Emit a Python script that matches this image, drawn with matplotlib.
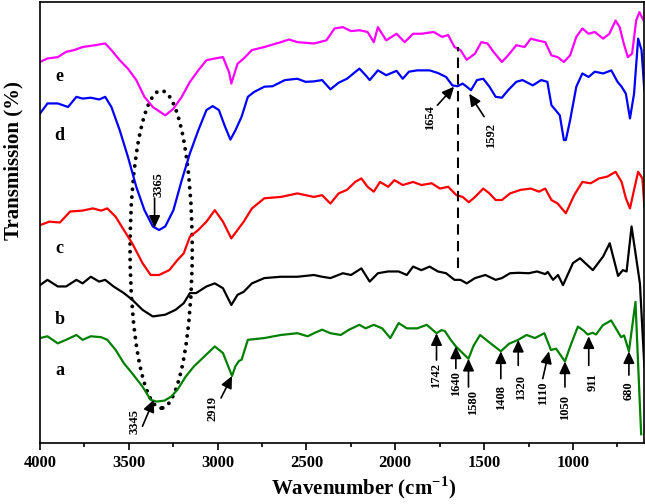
import matplotlib
matplotlib.use('Agg')
import matplotlib.pyplot as plt
from matplotlib.patches import Ellipse

# FTIR spectra, traces a-e (wavenumber in cm-1, transmission offset per trace)
wn_a = [4000,3958,3900,3853,3795,3760,3714,3656,3621,3574,3528,3481,3423,3377,3345,3300,3262,3226,3179,3133,
        3086,3016,2970,2919,2900,2880,2865,2830,2737,2644,2551,2493,2458,2412,2365,2307,2260,2202,2167,2121,
        2074,2028,1981,1935,1877,1823,1768,1740,1721,1690,1659,1588,1560,1523,1470,1406,1360,1308,1261,1214,
        1161,1124,1095,1045,1010,972,940,917,889,870,832,785,729,712,685,648,630,616]
t_a = [23.8,24.2,22.6,23.4,24.5,23.4,24.2,24.0,23.4,21.1,18.1,15.8,12.8,9.8,9.4,9.6,10.5,12.1,15.1,17.4,
       19.2,21.9,20.4,15.2,17.4,18.6,18.9,23.4,23.8,24.5,24.9,24.2,24.9,25.7,24.9,24.5,25.7,26.8,26.0,26.8,
       26.0,23.8,27.2,26.0,26.0,26.8,24.9,25.6,25.4,23.5,21.9,19.1,22.0,24.5,22.8,20.8,22.5,23.4,24.5,23.8,
       24.9,21.1,21.4,18.5,22.5,26.4,25.5,24.6,25.0,24.6,26.7,27.8,24.0,24.4,20.8,32.0,15.0,2.0]

wn_b = [4000,3958,3900,3853,3795,3760,3714,3667,3633,3586,3528,3481,3423,3365,3295,3237,3191,3156,3121,3063,
        3016,2970,2923,2888,2853,2807,2737,2644,2551,2458,2412,2365,2295,2249,2191,2144,2098,2040,1981,1935,
        1900,1853,1807,1760,1714,1667,1633,1598,1551,1493,1435,1400,1354,1307,1249,1202,1156,1142,1112,1084,
        1056,1000,960,888,830,793,746,719,698,670,623,598]
t_b = [35.8,37.0,35.5,35.5,37.0,36.2,37.7,36.6,37.0,35.5,34.0,32.5,30.2,28.7,29.1,30.2,31.7,34.0,34.0,35.5,
       36.2,35.1,31.3,33.6,34.3,36.2,37.4,37.7,37.7,38.1,37.7,37.4,38.5,38.1,39.6,36.6,38.5,38.9,38.9,38.1,
       40.0,39.2,40.0,38.9,38.5,37.0,37.0,36.2,37.4,38.1,37.0,37.4,38.5,38.6,38.5,38.9,38.3,38.8,37.0,38.1,
       35.8,40.8,41.9,39.2,42.3,45.3,37.9,39.2,38.9,49.1,36.2,17.4]

wn_c = [4000,3947,3888,3830,3760,3702,3656,3621,3574,3528,3481,3423,3377,3330,3272,3226,3191,3156,3109,3063,
        3016,2970,2923,2888,2853,2807,2737,2644,2551,2458,2412,2365,2319,2272,2226,2191,2156,2121,2086,2040,
        2005,1958,1900,1853,1795,1749,1702,1656,1621,1586,1551,1505,1470,1435,1400,1354,1295,1237,1191,1156,
        1121,1086,1040,993,947,900,853,807,760,726,702,679,656,633,609,598]
t_c = [49.4,50.2,50.0,52.5,52.7,53.2,52.7,53.2,51.3,48.3,45.3,40.8,38.1,38.1,39.2,41.5,43.0,46.8,48.3,50.2,
       52.8,50.2,46.4,48.3,50.2,53.2,55.5,55.8,56.6,55.8,56.2,54.3,56.6,57.4,59.2,60.0,58.1,57.0,59.2,58.1,
       59.6,58.5,59.2,58.5,58.9,57.7,58.1,56.2,55.8,54.6,55.8,57.7,56.6,55.1,55.1,56.6,57.4,57.7,57.0,57.7,
       55.1,54.3,52.1,56.2,59.2,58.9,60.0,60.4,61.5,59.2,55.5,53.2,57.4,61.5,60.0,53.6]

wn_d = [4000,3958,3900,3842,3795,3760,3714,3667,3633,3598,3551,3505,3458,3412,3365,3330,3295,3249,3202,3156,
        3109,3063,3028,2993,2958,2928,2900,2865,2830,2795,2737,2691,2621,2551,2505,2458,2412,2365,2319,2272,
        2202,2167,2144,2098,2051,1993,1958,1923,1877,1807,1760,1714,1679,1649,1621,1598,1574,1540,1505,1470,
        1435,1400,1365,1319,1284,1226,1179,1144,1121,1098,1074,1051,1040,1016,981,947,912,877,830,784,
        749,726,702,679,656,633,614,598]
t_d = [74.7,77.0,77.0,76.2,78.5,78.1,78.3,77.9,78.5,76.2,70.9,64.9,58.1,52.8,49.1,48.3,49.1,52.8,59.6,65.7,
       70.9,75.5,76.4,75.5,71.7,68.8,70.9,74.0,78.5,79.6,80.8,80.9,82.3,82.6,81.9,82.0,82.3,80.2,81.7,82.6,
       84.9,83.4,82.3,84.5,83.4,84.4,82.6,84.2,84.5,84.5,83.9,83.0,81.1,80.9,81.5,80.8,80.0,82.3,82.6,80.8,
       78.5,78.3,80.0,81.9,82.3,81.1,82.3,81.9,76.6,75.5,74.3,68.7,68.7,73.2,80.8,83.8,83.0,84.2,83.8,84.5,
       81.9,80.8,79.2,73.6,79.2,91.7,89.1,80.0]

wn_e = [4000,3958,3900,3853,3807,3760,3691,3633,3598,3551,3505,3458,3412,3365,3295,3249,3202,3156,3109,3063,
        3016,2970,2935,2923,2888,2853,2807,2737,2644,2598,2551,2458,2388,2342,2295,2249,2202,2156,2121,2098,
        2051,1993,1947,1900,1853,1784,1737,1702,1667,1633,1598,1551,1516,1481,1447,1400,1365,1319,1272,1237,
        1202,1156,1121,1086,1051,1016,981,947,912,877,830,795,760,737,714,691,667,644,626,602]
t_e = [86.4,87.2,87.5,88.7,89.1,89.8,90.2,90.6,89.1,86.8,84.9,82.3,78.5,76.2,74.3,75.8,78.5,81.9,84.5,86.8,
       87.2,87.5,84.0,81.5,86.0,87.2,89.1,89.8,90.9,91.5,90.9,90.6,91.3,94.0,94.3,93.4,93.6,93.2,90.9,94.3,
       91.3,92.8,90.9,92.8,92.8,93.2,92.1,92.5,89.8,89.1,86.9,88.3,90.9,90.6,88.7,86.4,87.9,90.2,89.8,91.7,
       91.3,90.9,87.9,87.5,86.4,87.9,92.1,94.0,92.8,93.2,91.7,92.8,95.8,94.3,90.6,87.5,88.3,95.8,97.7,95.8]

trace_names = ['a', 'b', 'c', 'd', 'e']
trace_colors = ['#008000', 'black', '#ff0000', '#0000ff', '#ff00ff']

# peak labels: text, arrow tip, arrow tail, label centre
peak_labels = ['3345', '2919', '1742', '1640', '1580', '1408', '1320', '1110', '1050', '911', '680',
               '3365', '1654', '1592']
tip_x = [3360, 2919, 1768, 1659, 1588, 1406, 1308, 1135, 1045, 911, 685, 3355, 1669, 1584]
tip_y = [9.8, 15.2, 24.9, 21.9, 19.1, 20.8, 23.4, 20.8, 18.5, 24.2, 20.8, 48.8, 80.8, 79.2]
tail_x = [3423, 2981, 1768, 1659, 1588, 1406, 1308, 1170, 1045, 911, 685, 3355, 1763, 1500]
tail_y = [3.8, 10.2, 18.8, 16.9, 12.7, 14.6, 17.6, 14.6, 12.7, 17.6, 15.4, 55.5, 76.6, 74.0]
lab_x = [3470, 3028, 1768, 1659, 1565, 1406, 1293, 1170, 1045, 889, 685, 3335, 1806, 1462]
lab_y = [4.9, 7.9, 15.3, 13.4, 9.3, 10.4, 12.7, 11.2, 8.1, 13.8, 11.9, 58.5, 73.9, 69.8]

plt.rcParams['font.family'] = ['Liberation Serif', 'DejaVu Serif']
plt.rcParams['mathtext.fontset'] = 'custom'
plt.rcParams['mathtext.rm'] = 'Liberation Serif:bold'
plt.rcParams['mathtext.bf'] = 'Liberation Serif:bold'

fig = plt.figure(figsize=(6.45, 5.04), dpi=100)
ax = fig.add_axes([0.062, 0.121, 0.937, 0.875])

for wn, t, c in zip([wn_a, wn_b, wn_c, wn_d, wn_e], [t_a, t_b, t_c, t_d, t_e], trace_colors):
    ax.plot(wn, t, color=c, lw=1.6, solid_joinstyle='round')

# trace letters
for name, ty in zip(trace_names, [16.5, 28.0, 44.2, 69.8, 83.0]):
    ax.text(3890, ty, name, fontsize=13, fontweight='bold', ha='center', va='center')

# peak arrows and labels
for i in range(len(peak_labels)):
    ax.annotate('', xy=(tip_x[i], tip_y[i]), xytext=(tail_x[i], tail_y[i]),
                arrowprops=dict(arrowstyle='-|>,head_length=0.6,head_width=0.28',
                                color='black', lw=1.2, shrinkA=0, shrinkB=0, mutation_scale=12))
    ax.text(lab_x[i], lab_y[i], peak_labels[i], rotation=90, fontsize=9,
            fontweight='bold', ha='center', va='center')

# dotted ellipse round the O-H band and dashed line at 1654
ell = Ellipse((3318, 43.9), 350, 72, fill=False, edgecolor='black',
              lw=2.8, linestyle=(0, (0.01, 2.0)))
ell.set_capstyle('round')
ax.add_patch(ell)
ax.plot([1648, 1648], [39.6, 89.8], color='black', lw=1.5, ls=(0, (5, 3)))

ax.set_xlim(4000, 598)
ax.set_ylim(0, 100)
ax.set_xticks([4000, 3500, 3000, 2500, 2000, 1500, 1000])
ax.set_xticks([3750, 3250, 2750, 2250, 1750, 1250, 750], minor=True)
ax.tick_params(axis='x', which='major', direction='out', length=5, width=1.2, labelsize=12)
ax.tick_params(axis='x', which='minor', direction='out', length=3, width=1.2)
ax.set_yticks([])
for lbl in ax.get_xticklabels():
    lbl.set_fontweight('bold')
for sp in ax.spines.values():
    sp.set_linewidth(1.2)

ax.set_xlabel('Wavenumber (cm$^{-1}$)', fontsize=15, fontweight='bold')
ax.xaxis.set_label_coords(0.535, -0.07)
ax.set_ylabel('Transmission (%)', fontsize=15, fontweight='bold')
ax.yaxis.set_label_coords(-0.028, 0.64)

plt.savefig('out.png', dpi=100)
